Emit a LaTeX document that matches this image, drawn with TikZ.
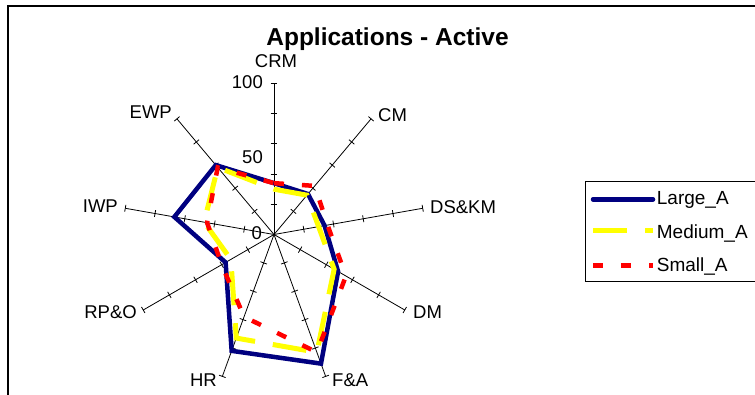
\documentclass[tikz,border=0pt]{standalone}
\usepackage{fontspec}
\setmainfont{Liberation Sans}
\definecolor{navyA}{RGB}{0,0,128}
\definecolor{yelA}{RGB}{255,255,0}
\definecolor{redA}{RGB}{255,0,0}
\begin{document}
\begin{tikzpicture}[x=1pt,y=1pt,
  axisline/.style={black, line width=0.8pt},
  tickmark/.style={black, line width=0.8pt},
  lab/.style={font=\fontsize{18.5}{20}\selectfont, inner sep=0pt},
  leglab/.style={font=\fontsize{19}{21}\selectfont, inner sep=0pt, anchor=base west},
  largeA/.style={draw=navyA, line width=4.5pt, line join=miter},
  mediumA/.style={draw=yelA, line width=5pt, line join=miter, dash pattern=on 34pt off 18pt},
  smallA/.style={draw=redA, line width=4.5pt, line join=miter, dash pattern=on 10pt off 18pt}
]
\useasboundingbox (0,0) rectangle (755,394);
\clip (0,0) rectangle (755,394);
\fill[white] (0,0) rectangle (755,394);
% chart area border
\draw[line width=2pt] (7.7,-20) rectangle (780,387.7);
% title
\node[font=\bfseries\fontsize{24.5}{27}\selectfont, inner sep=0pt, anchor=base] (title) at (387.5,348) {Applications - Active};
% radar
\begin{scope}[shift={(274,159.5)}, x=1.51pt, y=1.51pt]
  \coordinate (c) at (0,0);
  \foreach \a in {90,50,10,-30,-70,-110,-150,170,130} {
    \draw[axisline] (c) -- (\a:100);
    \foreach \r in {20,40,60,80,100} {
      \draw[tickmark] (\a:\r) ++({\a+90}:2.3) -- ++({\a-90}:4.6);
    }
  }
  \draw[largeA] (90:34) -- (50:35) -- (10:34) -- (-30:49) -- (-70:91) -- (-110:82) -- (-150:37) -- (170:67) -- (130:60) -- cycle;
  \draw[mediumA] (90:30) -- (50:34) -- (10:30) -- (-30:46) -- (-70:83) -- (-110:73) -- (-150:33) -- (170:47) -- (130:58) -- cycle;
  \draw[smallA] (90:34) -- (50:42) -- (10:36) -- (-30:55) -- (-70:83) -- (-110:58) -- (-150:40) -- (170:45) -- (130:58) -- cycle;
\end{scope}
% category labels
\node[lab, anchor=base] (crm) at (276,326) {CRM};
\node[lab, anchor=base west] (cm) at (378,272) {CM};
\node[lab, anchor=base west] (dskm) at (430,180) {DS\&KM};
\node[lab, anchor=base west] (dm) at (413,76) {DM};
\node[lab, anchor=base west] (fa) at (332,8) {F\&A};
\node[lab, anchor=base east] (hr) at (217,8) {HR};
\node[lab, anchor=base east] (rpo) at (137,76) {RP\&O};
\node[lab, anchor=base east] (iwp) at (118,181) {IWP};
\node[lab, anchor=base east] (ewp) at (172,275) {EWP};
% value labels
\node[lab, anchor=base east] (v100) at (263,305) {100};
\node[lab, anchor=base east] (v50) at (263,230) {50};
\node[lab, anchor=base east] (v0) at (262,154) {0};
% legend
\draw[line width=1pt] (585,212) rectangle (780,113);
\coordinate (l1a) at (593,194.7); \coordinate (l1b) at (653,194.7);
\coordinate (l2a) at (593,163); \coordinate (l2b) at (653,163);
\coordinate (l3a) at (593,128.3); \coordinate (l3b) at (653,128.3);
\draw[largeA, line cap=round] (l1a) -- (l1b);
\draw[mediumA] (l2a) -- (l2b);
\draw[smallA] (l3a) -- (l3b);
\node[leglab] (lg1) at (656.7,189) {Large\_A};
\node[leglab] (lg2) at (656.7,155.7) {Medium\_A};
\node[leglab] (lg3) at (656.7,122.3) {Small\_A};
\end{tikzpicture}
\end{document}
